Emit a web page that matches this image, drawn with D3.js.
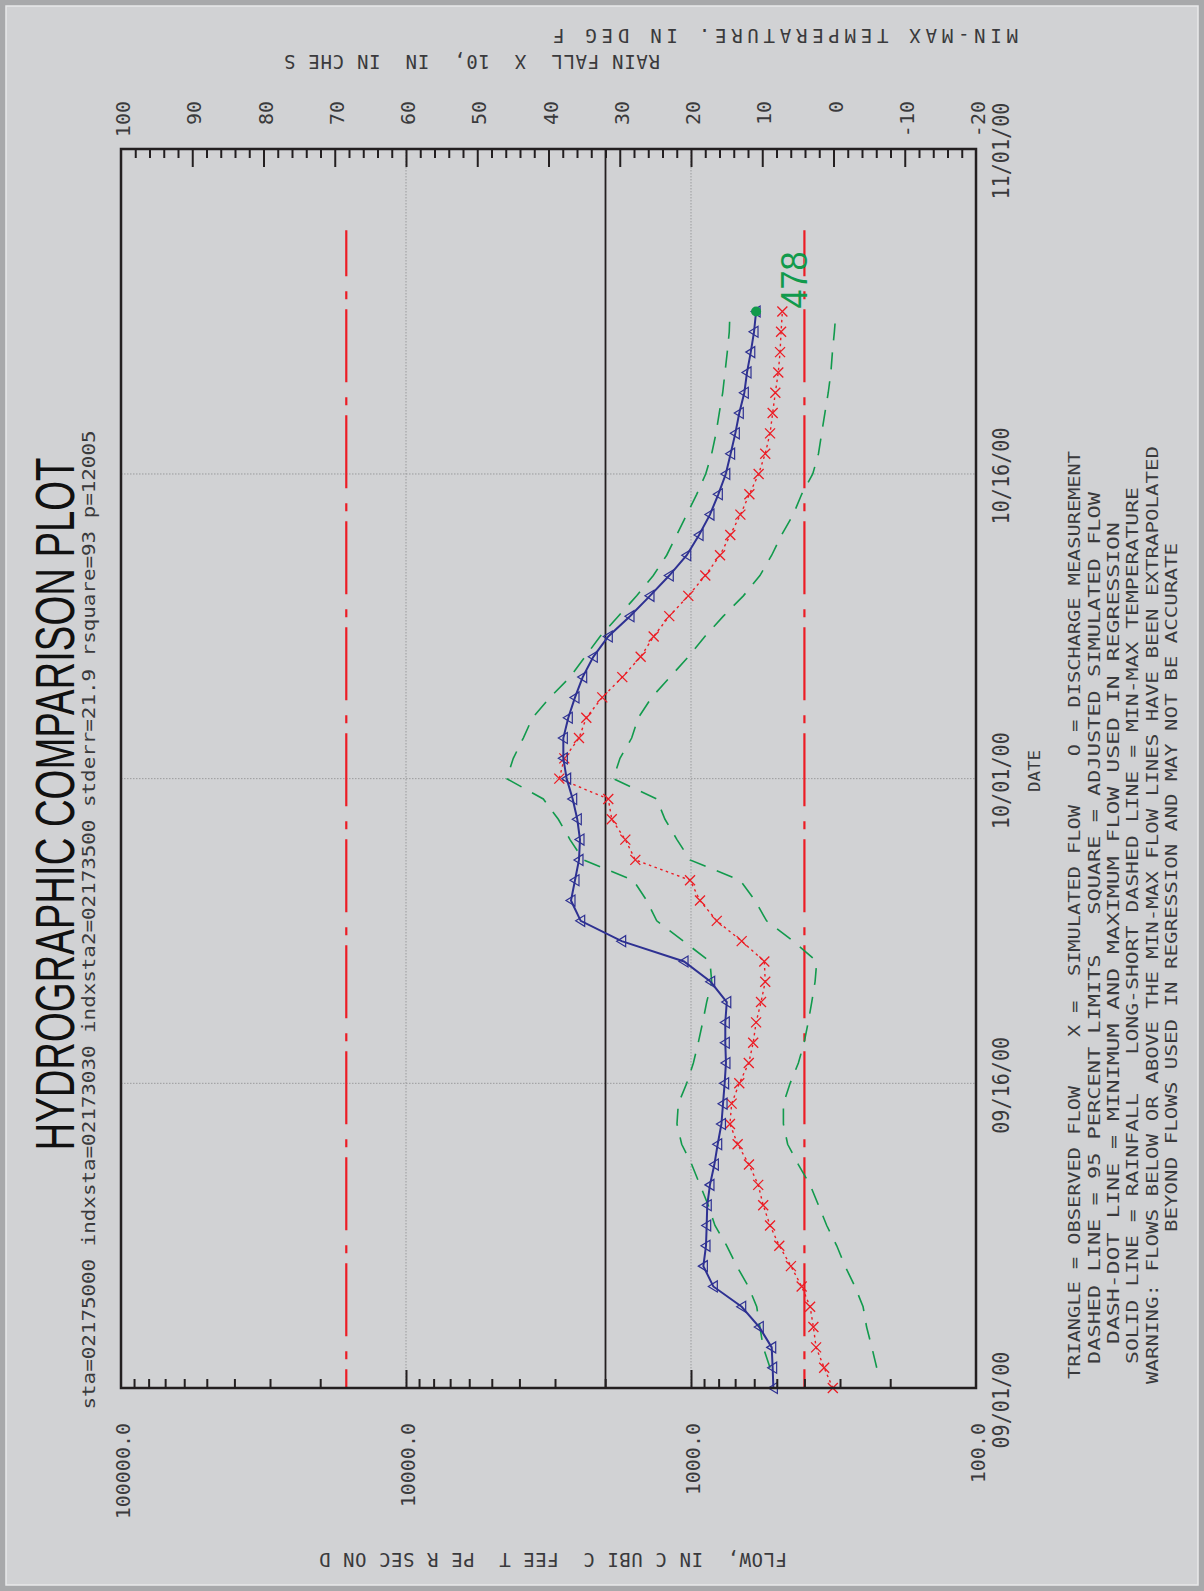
<!DOCTYPE html>
<html>
<head>
<meta charset="utf-8">
<script src="https://cdn.jsdelivr.net/npm/d3@7"></script>
<style>
  html, body { margin: 0; padding: 0; background: #d1d2d4; }
  svg { display: block; }
  text { white-space: pre; }
</style>
</head>
<body>
<svg id="chart" width="1204" height="1591"></svg>
<script>
// ---- daily series, starting 09/01/00 (cubic feet per second) ----
const startDate = "09/01/00";
const observedFlow = [514, 517, 521, 576, 664, 835, 905, 886, 881, 877, 858, 828, 806, 782, 772, 762, 754, 758, 758, 749,
  853, 1058, 1751, 2438, 2637, 2553, 2472, 2452, 2506, 2601, 2731, 2805, 2805, 2695, 2553, 2399, 2202, 1951, 1637, 1393,
  1192, 1035, 937, 858, 802, 755, 726, 699, 677, 650, 636, 617, 601, 591];
const simulatedFlow = [318, 341, 364, 372, 382, 409, 446, 490, 528, 558, 581, 626, 686, 730, 720, 677, 627, 605, 591, 568,
  549, 553, 664, 812, 930, 1008, 1568, 1700, 1897, 1951, 2898, 2783, 2472, 2330, 2048, 1742, 1502, 1352, 1192, 1022,
  891, 791, 728, 671, 624, 579, 549, 528, 517, 506, 494, 487, 483, 478];
const upperLimit = [null, 528, 558, 573, 588, 629, 691, 749, 824, 870, 930, 994, 1078, 1120, 1108, 1035, 981, 943, 910, 881,
  846, 858, 1064, 1319, 1430, 1594, 2387, 2658, 2921, 3298, 4434, 4203, 3876, 3598, 3124, 2658, 2354, 2085, 1799, 1551,
  1356, 1217, 1122, 1035, 955, 888, 846, 817, 796, 774, 760, 746, 734, 730];
const lowerLimit = [null, 223, 232, 242, 249, 266, 288, 308, 334, 357, 382, 420, 458, 474, 474, 449, 420, 401, 388, 377,
  367, 362, 438, 543, 596, 673, 1008, 1120, 1234, 1319, 1873, 1775, 1615, 1531, 1374, 1185, 1022, 894, 770, 655,
  573, 521, 481, 438, 409, 374, 357, 348, 339, 330, 323, 319, 314, 310];

// discharge measurement
const measurementDate = "10/24/00";
const measuredFlow = 591;
const simulatedLabel = "478";

// regression flow range and period
const regressionFlows = [400, 16200];
const regressionEnd = "10/28/00";
const freezingF = 32;

// axes
const dateTicks = ["09/01/00", "09/16/00", "10/01/00", "10/16/00", "11/01/00"];
const flowTicks = [100000, 10000, 1000, 100];
const flowTickLabels = ["100000.0", "10000.0", "1000.0", "100.0"];
const rainTempTicks = [100, 90, 80, 70, 60, 50, 40, 30, 20, 10, 0, -10, -20];

const titleText = "HYDROGRAPHIC COMPARISON PLOT";
const subtitleText = "sta=02175000 indxsta=02173030 indxsta2=02173500 stderr=21.9 rsquare=93 p=12005";
const tempAxisTitle = "MIN-MAX TEMPERATURE. IN DEG F";
const rainAxisTitle = "RAIN FALL  X  10,  IN  IN CHE S";
const flowAxisTitle = "FLOW,  IN C UBI C  FEE T  PE R SEC ON D";
const dateAxisTitle = "DATE";
const legendLines = [
  "TRIANGLE = OBSERVED FLOW    X =  SIMULATED FLOW    O = DISCHARGE MEASUREMENT",
  "DASHED LINE = 95 PERCENT LIMITS   SQUARE = ADJUSTED SIMULATED FLOW",
  "DASH-DOT LINE = MINIMUM AND MAXIMUM FLOW USED IN REGRESSION",
  "SOLID LINE = RAINFALL   LONG-SHORT DASHED LINE = MIN-MAX TEMPERATURE",
  "WARNING: FLOWS BELOW OR ABOVE THE MIN-MAX FLOW LINES HAVE BEEN EXTRAPOLATED",
  "BEYOND FLOWS USED IN REGRESSION AND MAY NOT BE ACCURATE"
];

// ---- layout (the plot is drawn turned on its side: dates run up, flow runs left) ----
const W = 1204, H = 1591;
const P = { left: 121, right: 976, top: 149, bottom: 1388 };
const MONO = "'DejaVu Sans Mono', 'Liberation Mono', monospace";
const SANS = "'Liberation Sans', Arial, sans-serif";
const C = { blue: "#2e3192", red: "#ec1c24", green: "#119a4c", ink: "#231f20", text: "#3a3a3c", grid: "#9a9b9d" };

const parse = d3.utcParse("%m/%d/%y");
const t0 = parse(startDate);
const days = d3.range(observedFlow.length).map(i => d3.utcDay.offset(t0, i));

const y = d3.scaleUtc().domain([parse(dateTicks[0]), parse(dateTicks[dateTicks.length - 1])]).range([P.bottom, P.top]);
const xFlow = d3.scaleLog().domain([100000, 100]).range([P.left, P.right]);
const xRT = d3.scaleLinear().domain([100, -20]).range([P.left, P.right]);

const svg = d3.select("#chart");

// page border
svg.append("rect").attr("width", W).attr("height", H).attr("fill", "#a8a9ab");
svg.append("rect").attr("x", 6).attr("y", 6).attr("width", W - 12).attr("height", H - 12)
  .attr("fill", "#d1d2d4").attr("stroke", "#e8e9ea").attr("stroke-width", 1.5);

function vtext(g, x, yy, str, o) {
  const t = g.append("text")
    .attr("transform", `translate(${x},${yy}) rotate(${o.rotate ?? -90})`)
    .attr("dy", o.dy ?? "0.36em")
    .attr("text-anchor", o.anchor ?? "middle")
    .attr("font-family", o.family ?? MONO)
    .attr("font-size", o.size)
    .attr("font-weight", o.weight ?? "normal")
    .attr("fill", o.fill ?? C.text)
    .text(str);
  if (o.length) t.attr("textLength", o.length).attr("lengthAdjust", o.adjust ?? "spacingAndGlyphs");
  return t;
}

const plot = svg.append("g");

// dotted grid: flow decades and half-month dates
plot.selectAll("line.gx").data([10000, 1000]).join("line")
  .attr("x1", d => xFlow(d)).attr("x2", d => xFlow(d))
  .attr("y1", P.top).attr("y2", P.bottom)
  .attr("stroke", C.grid).attr("stroke-width", 1).attr("stroke-dasharray", "1.5,1.5");
plot.selectAll("line.gy").data(dateTicks.slice(1, -1)).join("line")
  .attr("x1", P.left).attr("x2", P.right)
  .attr("y1", d => y(parse(d))).attr("y2", d => y(parse(d)))
  .attr("stroke", C.grid).attr("stroke-width", 1).attr("stroke-dasharray", "1.5,1.5");

// freezing reference on the temperature scale
plot.append("line")
  .attr("x1", xRT(freezingF)).attr("x2", xRT(freezingF)).attr("y1", P.top).attr("y2", P.bottom)
  .attr("stroke", C.ink).attr("stroke-width", 1.8);

// min / max regression flows
plot.selectAll("line.reg").data(regressionFlows).join("line")
  .attr("x1", d => xFlow(d)).attr("x2", d => xFlow(d))
  .attr("y1", y(parse(regressionEnd))).attr("y2", P.bottom)
  .attr("stroke", C.red).attr("stroke-width", 2.2)
  .attr("stroke-dasharray", "73,15,8,10").attr("stroke-dashoffset", 27);

// 95 percent limits
const limitLine = d3.line().defined(d => d.v != null).x(d => xFlow(d.v)).y(d => y(d.t));
[upperLimit, lowerLimit].forEach(arr => {
  plot.append("path")
    .attr("d", limitLine(arr.map((v, i) => ({ v, t: days[i] }))))
    .attr("fill", "none").attr("stroke", C.green).attr("stroke-width", 1.6)
    .attr("stroke-dasharray", "17,12");
});

// simulated flow
const flowLine = d3.line().x(d => xFlow(d.v)).y(d => y(d.t));
const sim = simulatedFlow.map((v, i) => ({ v, t: days[i] }));
plot.append("path").attr("d", flowLine(sim))
  .attr("fill", "none").attr("stroke", C.red).attr("stroke-width", 1.4).attr("stroke-dasharray", "2.5,3.5");
plot.selectAll("path.x").data(sim).join("path")
  .attr("transform", d => `translate(${xFlow(d.v)},${y(d.t)})`)
  .attr("d", "M-5,-5L5,5M-5,5L5,-5")
  .attr("stroke", C.red).attr("stroke-width", 1.3).attr("fill", "none");

// observed flow
const obs = observedFlow.map((v, i) => ({ v, t: days[i] }));
plot.append("path").attr("d", flowLine(obs))
  .attr("fill", "none").attr("stroke", C.blue).attr("stroke-width", 2);
plot.selectAll("path.tri").data(obs).join("path")
  .attr("transform", d => `translate(${xFlow(d.v)},${y(d.t)})`)
  .attr("d", "M-5,0L4,-5.5L4,5.5Z")
  .attr("stroke", C.blue).attr("stroke-width", 1.2).attr("fill", "none");

// discharge measurement
plot.append("circle")
  .attr("cx", xFlow(measuredFlow)).attr("cy", y(parse(measurementDate))).attr("r", 5)
  .attr("fill", C.green);

// value of the last simulated flow
const lastSim = sim[sim.length - 1];
vtext(plot, xFlow(+simulatedLabel) + 12, y(lastSim.t) - 3, simulatedLabel,
  { anchor: "start", family: SANS, size: 36, fill: C.green, length: 57 });

// frame
plot.append("rect").attr("x", P.left).attr("y", P.top)
  .attr("width", P.right - P.left).attr("height", P.bottom - P.top)
  .attr("fill", "none").attr("stroke", C.ink).attr("stroke-width", 2.5);

// rainfall / temperature ticks along the top
const rtMinor = d3.range(98, -20, -2).filter(v => v % 10 !== 0);
const rtMajor = rainTempTicks.filter(v => v < 100 && v > -20);
function styleAxis(g) {
  g.select(".domain").remove();
  g.selectAll(".tick line").attr("stroke", C.ink).attr("stroke-width", 2);
}
svg.append("g").attr("transform", `translate(0,${P.top})`)
  .call(d3.axisBottom(xRT).tickValues(rtMinor).tickSize(9).tickFormat(""))
  .call(styleAxis);
svg.append("g").attr("transform", `translate(0,${P.top})`)
  .call(d3.axisBottom(xRT).tickValues(rtMajor).tickSize(18).tickFormat(""))
  .call(styleAxis);

// flow ticks along the bottom
const flowMinor = [100, 1000, 10000].flatMap(dec => d3.range(2, 10).map(k => k * dec));
svg.append("g").attr("transform", `translate(0,${P.bottom})`)
  .call(d3.axisTop(xFlow).tickValues(flowMinor).tickSize(9).tickFormat(""))
  .call(styleAxis);
svg.append("g").attr("transform", `translate(0,${P.bottom})`)
  .call(d3.axisTop(xFlow).tickValues([10000, 1000]).tickSize(18).tickFormat(""))
  .call(styleAxis);

// tick labels
const labels = svg.append("g");
rainTempTicks.forEach(v => vtext(labels, xRT(v) + 2, 101, String(v), { anchor: "end", size: 20 }));
flowTicks.forEach((v, i) => vtext(labels, xFlow(v) + 2, 1423, flowTickLabels[i], { anchor: "end", size: 20 }));
dateTicks.forEach((d, i) => {
  // the first date label sits just below the corner, clear of the flow labels
  const yy = y(parse(d)) + (i === 0 ? 12 : 2);
  vtext(labels, 1001, yy, d, { size: 23, length: 97 });
});

// axis titles (printed upside down along the top and bottom)
vtext(labels, 1018, 36, tempAxisTitle, { rotate: 180, anchor: "start", size: 19, length: 465, adjust: "spacing" });
vtext(labels, 660, 62, rainAxisTitle, { rotate: 180, anchor: "start", size: 19, length: 376, adjust: "spacing" });
vtext(labels, 787, 1560, flowAxisTitle, { rotate: 180, anchor: "start", size: 19, length: 468, adjust: "spacing" });
vtext(labels, 1035, 771, dateAxisTitle, { size: 15, length: 42 });

// title block
vtext(labels, 54, 804, titleText, { family: SANS, size: 56, fill: "#111", length: 693 });
vtext(labels, 89, 920, subtitleText, { size: 17, length: 979 });

// legend
const legendPos = [
  [1075, 1379, 928], [1095, 1364, 872], [1114, 1344, 822],
  [1133, 1364, 877], [1153, 1384, 938], [1172, 1232, 689]
];
legendLines.forEach((s, i) => {
  const [lx, ly, len] = legendPos[i];
  vtext(labels, lx, ly, s, { anchor: "start", size: 15, length: len });
});
</script>
</body>
</html>
